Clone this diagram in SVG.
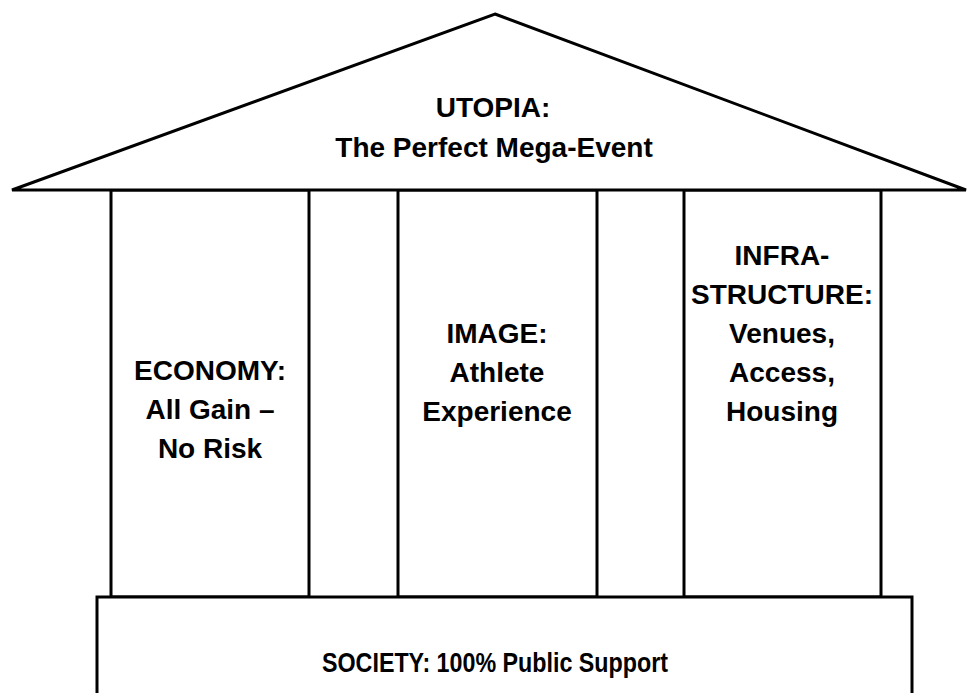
<svg xmlns="http://www.w3.org/2000/svg" width="968" height="693" viewBox="0 0 968 693">
  <style>
    .ln { fill: #ffffff; stroke: #000000; stroke-width: 3; stroke-linejoin: miter; }
    .t { font-family: "Liberation Sans", Arial, sans-serif; font-weight: 700; font-size: 28px; fill: #000000; text-anchor: middle; }
  </style>
  <rect x="0" y="0" width="968" height="693" fill="#ffffff"/>
  <g id="pillar-economy">
    <rect class="ln" x="111" y="190" width="198" height="407"/>
    <text class="t" x="210" y="380">ECONOMY:</text>
    <text class="t" x="210" y="419">All Gain –</text>
    <text class="t" x="210" y="458">No Risk</text>
  </g>
  <g id="pillar-image">
    <rect class="ln" x="398" y="190" width="199" height="407"/>
    <text class="t" x="497" y="343">IMAGE:</text>
    <text class="t" x="497" y="382">Athlete</text>
    <text class="t" x="497" y="421">Experience</text>
  </g>
  <g id="pillar-infrastructure">
    <rect class="ln" x="684" y="190" width="197" height="407"/>
    <text class="t" x="782" y="265">INFRA-</text>
    <text class="t" x="782" y="304">STRUCTURE:</text>
    <text class="t" x="782" y="343">Venues,</text>
    <text class="t" x="782" y="382">Access,</text>
    <text class="t" x="782" y="421">Housing</text>
  </g>
  <g id="roof">
    <polygon class="ln" points="495,14 966,190 12,190"/>
    <text class="t" x="493" y="117">UTOPIA:</text>
    <text class="t" x="494" y="157">The Perfect Mega-Event</text>
  </g>
  <g id="base">
    <rect class="ln" x="97" y="597" width="815" height="110"/>
    <text class="t" x="495" y="672" textLength="346" lengthAdjust="spacingAndGlyphs">SOCIETY: 100% Public Support</text>
  </g>
  <g id="connectors"></g>
</svg>
